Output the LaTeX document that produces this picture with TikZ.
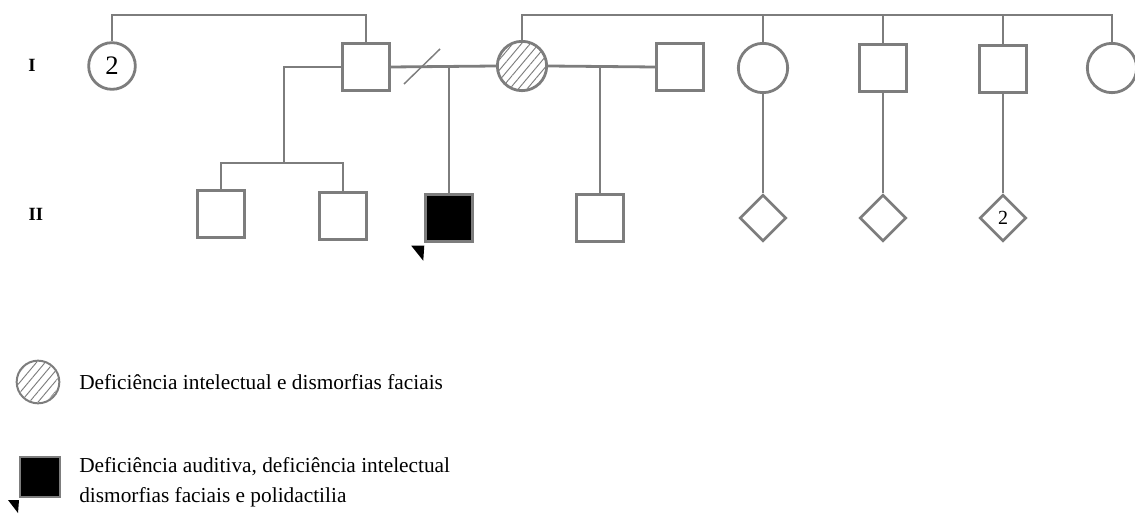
\documentclass[tikz,border=0pt]{standalone}
\usepackage{fontspec}
\setmainfont{Liberation Serif}
\usetikzlibrary{shapes.geometric,patterns.meta}
\definecolor{ln}{RGB}{125,125,125}
\begin{document}
\begin{tikzpicture}[x=0.75pt,y=-0.75pt,
  every node/.style={inner sep=0pt},
  link/.style={draw=ln,line width=2.1pt},
  male/.style={rectangle,draw=ln,line width=2.1pt,fill=white,minimum size=35pt},
  female/.style={circle,draw=ln,line width=2.1pt,fill=white,minimum size=35pt},
  unk/.style={diamond,draw=ln,line width=2.1pt,fill=white,minimum size=35pt},
  affected/.style={fill=black},
  hatched/.style={pattern={Lines[angle=50,distance=5pt,line width=0.7pt]},pattern color=ln},
  gen/.style={font=\bfseries\fontsize{14}{14}\selectfont},
  legend/.style={anchor=west,align=left,font=\fontsize{16}{22.5}\selectfont}]
\useasboundingbox (0,0) rectangle (1135,520);
\coordinate (top) at (0,15);

% generation labels
\node[gen] (g1) at (32,65) {I};
\node[gen] (g2) at (36,214) {II};

% generation I
\node[female,font=\fontsize{20}{20}\selectfont] (c2) at (112,66) {2};
\node[male] (f) at (366,67) {};
\node[female,minimum width=35pt,minimum height=37pt] (h) at (522,66) {};
\node[female,draw=none,fill=none,hatched,minimum width=33pt,minimum height=35pt] (hh) at (522,66) {};
\node[male] (r1) at (680,67) {};
\node[female,minimum width=35pt,minimum height=37pt] (r2) at (763,68) {};
\node[male] (r3) at (883,68) {};
\node[male] (r4) at (1003,69) {};
\node[female,minimum width=34pt,minimum height=37pt] (r5) at (1112,68) {};

% generation II
\node[male] (s1) at (221,214) {};
\node[male] (s2) at (343,216) {};
\node[male,affected] (p) at (449,218) {};
\node[male] (s4) at (600,218) {};
\node[unk] (d1) at (763,218) {};
\node[unk] (d2) at (883,218) {};
\node[unk,font=\fontsize{15}{15}\selectfont] (d3) at (1003,218) {2};

% sibship lines of generation I
\draw[link] (c2.north) -- (c2.north |- top) -| (f.north);
\draw[link] (h.north) -- (h.north |- top) -| (r5.north);
\draw[link] (r2.north) -- (r2.north |- top);
\draw[link] (r3.north) -- (r3.north |- top);
\draw[link] (r4.north) -- (r4.north |- top);

% unions and descent
\coordinate (m1) at (449,67);
\coordinate (m2) at (600,67);
\coordinate (sib) at (284,163);
\draw[link] (f.east) -- (h.west);
\draw[link] (m1) -- (p.north);
\draw[link] (h.east) -- (r1.west);
\draw[link] (m2) -- (s4.north);
\draw[link] (f.west) -| (sib);
\draw[link] (s1.north) |- (sib) -| (s2.north);
\coordinate (sl1) at (404,84);
\coordinate (sl2) at (440,49);
\draw[draw=ln,line width=1.1pt] (sl1) -- (sl2);
\draw[link] (r2.south) -- (d1.north);
\draw[link] (r3.south) -- (d2.north);
\draw[link] (r4.south) -- (d3.north);

% proband marker
\fill (p.south west) ++(-13,3) -- ++(13,0) -- ++(-1,15) -- cycle;

% legend
\node[female,minimum width=30pt,minimum height=32pt,line width=1.5pt] (lh) at (38,382) {};
\node[female,draw=none,fill=none,hatched,minimum width=28pt,minimum height=30pt] (lhh) at (38,382) {};
\node[legend] (t1) at (79,382) {Deficiência intelectual e dismorfias faciais};
\node[rectangle,draw=ln,line width=1.5pt,fill=black,minimum width=30pt,minimum height=30pt] (lp) at (40,477) {};
\fill (lp.south west) ++(-11,2) -- ++(11,0) -- ++(-1,13) -- cycle;
\node[legend] (t2) at (79,482) {Deficiência auditiva, deficiência intelectual\\dismorfias faciais e polidactilia};
\end{tikzpicture}
\end{document}
